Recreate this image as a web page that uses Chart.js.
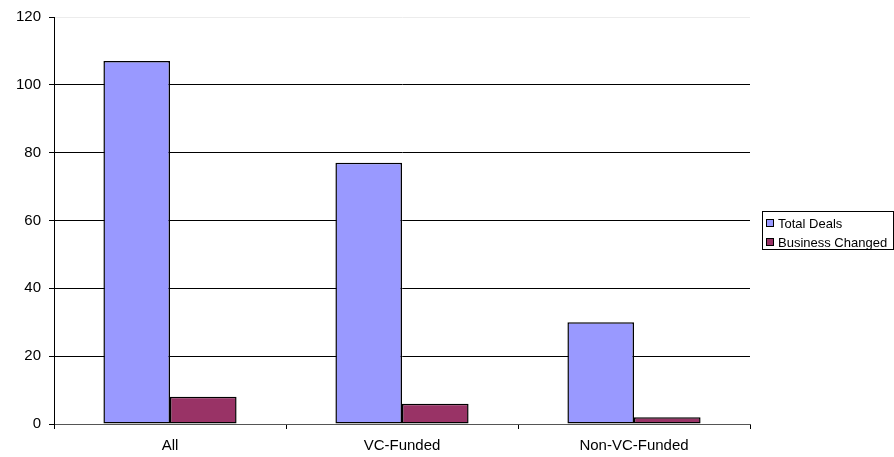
<!DOCTYPE html>
<html>
<head>
<meta charset="utf-8">
<script src="https://cdn.jsdelivr.net/npm/chart.js@4/dist/chart.umd.min.js"></script>
<style>
  html, body { margin: 0; padding: 0; background: #fff; }
  #wrap { width: 894px; height: 457px; position: relative; }
</style>
</head>
<body>
<div id="wrap"><canvas id="deals-chart"></canvas></div>
<script>
const categories = ['All', 'VC-Funded', 'Non-VC-Funded'];
const totalDeals = [107, 77, 30];
const businessChanged = [8, 6, 2];
const yTicks = [0, 20, 40, 60, 80, 100, 120];

const fontFamily = '"Liberation Sans", Arial, sans-serif';

// legend drawn by hand so it sits where the original one does, with its frame
const boxedLegend = {
  id: 'boxedLegend',
  afterDraw(chart) {
    const ctx = chart.ctx;
    const x = 762, y = 211, w = 132, h = 39;
    ctx.save();
    ctx.fillStyle = '#fff';
    ctx.fillRect(x, y, w, h);
    ctx.strokeStyle = '#000';
    ctx.lineWidth = 1;
    ctx.strokeRect(x + 0.5, y + 0.5, w - 1, h - 1);
    ctx.font = '13px ' + fontFamily;
    ctx.textBaseline = 'middle';
    chart.data.datasets.forEach((ds, i) => {
      const cy = y + 12 + i * 19;
      ctx.fillStyle = ds.backgroundColor;
      ctx.fillRect(x + 4, cy - 4, 8, 8);
      ctx.strokeStyle = '#000';
      ctx.strokeRect(x + 4.5, cy - 3.5, 7, 7);
      ctx.fillStyle = '#000';
      ctx.fillText(ds.label, x + 16, cy + 1);
    });
    ctx.restore();
  }
};

new Chart(document.getElementById('deals-chart'), {
  type: 'bar',
  data: {
    labels: categories,
    datasets: [
      {
        label: 'Total Deals',
        data: totalDeals,
        backgroundColor: '#9999FF',
        borderColor: '#000',
        borderWidth: 1.5,
        borderSkipped: false
      },
      {
        label: 'Business Changed',
        data: businessChanged,
        backgroundColor: '#993366',
        borderColor: '#000',
        borderWidth: 1.5,
        borderSkipped: false
      }
    ]
  },
  options: {
    responsive: true,
    maintainAspectRatio: false,
    animation: false,
    categoryPercentage: 0.574,
    barPercentage: 1,
    layout: {
      padding: { left: 0, right: 144, top: 16, bottom: 0 }
    },
    scales: {
      x: {
        grid: {
          offset: true,
          drawOnChartArea: false,
          drawTicks: true,
          tickLength: 5,
          color: '#000'
        },
        border: { display: true, color: '#555' },
        ticks: {
          color: '#000',
          padding: 8,
          font: { family: fontFamily, size: 15 }
        },
        afterFit(scale) { scale.height = 33; }
      },
      y: {
        min: 0,
        max: 120,
        afterBuildTicks(scale) {
          scale.ticks = yTicks.map(v => ({ value: v }));
        },
        grid: {
          color: ctx => (ctx.tick && ctx.tick.value === 120) ? '#ececec' : '#000',
          tickColor: '#000',
          tickLength: 5
        },
        border: { display: true, color: '#000' },
        ticks: {
          color: '#000',
          padding: 8,
          font: { family: fontFamily, size: 15 }
        },
        afterFit(scale) { scale.width = 54; }
      }
    },
    plugins: {
      legend: { display: false },
      tooltip: { enabled: false }
    }
  },
  plugins: [boxedLegend]
});
</script>
</body>
</html>
